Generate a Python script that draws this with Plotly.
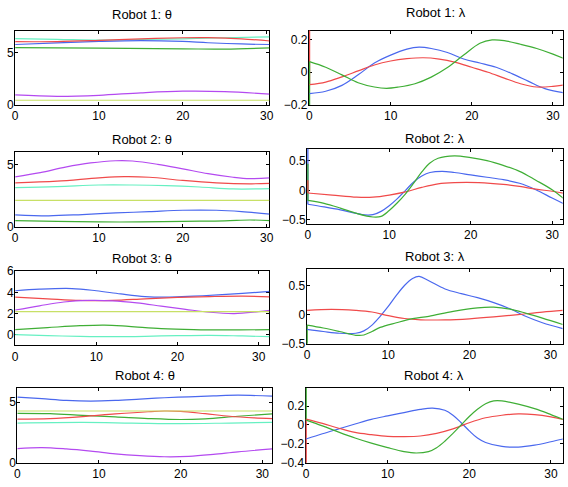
import plotly.graph_objects as go

W, H = 568, 487

# ---------------- colours ----------------
C_BLUE = "#4a68ee"
C_RED = "#f04a4a"
C_GREEN = "#3fae35"
C_PURPLE = "#b44af0"
C_YELLOW = "#c8e066"
C_CYAN = "#66f0c2"

# ---------------- Robot 1: theta ----------------
r1_th_cyan_t = [0, 5, 10, 15, 20, 25, 30.5]
r1_th_cyan = [6.36, 6.30, 6.22, 6.28, 6.35, 6.45, 6.54]
r1_th_red_t = [0, 5, 10, 15, 20, 23, 27, 30.5]
r1_th_red = [6.07, 6.08, 6.20, 6.35, 6.45, 6.46, 6.35, 6.13]
r1_th_blue_t = [0, 5, 10, 15, 20, 23, 27, 30.5]
r1_th_blue = [5.80, 5.95, 6.10, 6.18, 6.10, 5.97, 5.85, 5.80]
r1_th_green_t = [0, 10, 20, 25, 30.5]
r1_th_green = [5.50, 5.45, 5.38, 5.35, 5.48]
r1_th_purple_t = [0, 5, 10, 15, 20, 25, 30.5]
r1_th_purple = [0.94, 0.80, 0.90, 1.14, 1.30, 1.26, 1.00]
r1_th_yellow_t = [0, 30.5]
r1_th_yellow = [0.42, 0.42]

# ---------------- Robot 1: lambda ----------------
r1_la_blue_t = [0, 2, 4, 6, 8, 10, 12, 13.5, 15, 17, 19, 21, 23, 25, 27, 29, 31.5]
r1_la_blue = [-0.13, -0.116, -0.08, -0.016, 0.056, 0.104, 0.14, 0.152, 0.144, 0.12, 0.08, 0.056, 0.03, -0.01, -0.056, -0.10, -0.126]
r1_la_red_t = [0, 2, 4, 6, 8, 10, 12, 14, 16, 18, 20, 22, 24, 26, 28, 30, 31.5]
r1_la_red = [-0.076, -0.06, -0.028, 0.008, 0.044, 0.068, 0.082, 0.088, 0.08, 0.06, 0.03, 0.0, -0.036, -0.07, -0.09, -0.086, -0.076]
r1_la_green_t = [0, 2, 4, 6, 8, 9.5, 11, 13, 15, 17, 19, 21, 22.5, 24, 26, 28, 30, 31.5]
r1_la_green = [0.064, 0.03, -0.016, -0.064, -0.09, -0.098, -0.09, -0.07, -0.03, 0.028, 0.104, 0.176, 0.196, 0.192, 0.17, 0.144, 0.11, 0.08]
r1_la_init = {"red": 0.5, "green": -0.4}

# ---------------- Robot 2: theta ----------------
r2_th_purple_t = [0, 3, 6, 9, 12, 14, 17, 20, 23, 26, 28, 30.5]
r2_th_purple = [4.03, 4.37, 4.82, 5.16, 5.34, 5.32, 5.05, 4.68, 4.29, 4.00, 3.89, 3.95]
r2_th_red_t = [0, 5, 10, 13, 16, 20, 24, 28, 30.5]
r2_th_red = [3.55, 3.68, 3.95, 4.05, 4.00, 3.74, 3.55, 3.47, 3.50]
r2_th_cyan_t = [0, 5, 10, 14, 18, 22, 26, 30.5]
r2_th_cyan = [3.16, 3.24, 3.37, 3.37, 3.32, 3.21, 3.05, 3.08]
r2_th_yellow_t = [0, 30.5]
r2_th_yellow = [2.13, 2.13]
r2_th_blue_t = [0, 4, 8, 12, 16, 20, 24, 27, 30.5]
r2_th_blue = [0.95, 0.87, 0.97, 1.10, 1.21, 1.32, 1.32, 1.21, 1.00]
r2_th_green_t = [0, 5, 10, 15, 20, 25, 28, 30.5]
r2_th_green = [0.47, 0.42, 0.37, 0.37, 0.42, 0.45, 0.53, 0.47]

# ---------------- Robot 2: lambda ----------------
r2_la_green_t = [0, 2, 4, 6, 8, 9, 10, 11, 12, 13, 14, 15, 16, 18, 20, 22, 24, 26, 28, 30, 31.5]
r2_la_green = [-0.17, -0.22, -0.30, -0.39, -0.45, -0.44, -0.34, -0.21, -0.06, 0.12, 0.31, 0.46, 0.54, 0.58, 0.55, 0.50, 0.42, 0.32, 0.17, 0.01, -0.15]
r2_la_blue_t = [0, 2, 4, 6, 7, 8, 9, 10, 11, 12, 13, 14, 15, 16.5, 18, 20, 22, 24, 26, 28, 30, 31.5]
r2_la_blue = [-0.235, -0.28, -0.33, -0.39, -0.415, -0.41, -0.355, -0.26, -0.14, 0.0, 0.14, 0.24, 0.30, 0.32, 0.30, 0.26, 0.22, 0.18, 0.12, 0.01, -0.13, -0.23]
r2_la_red_t = [0, 3, 6, 8, 10, 12, 14, 16, 18, 21, 24, 26, 28, 30, 31.5]
r2_la_red = [-0.045, -0.08, -0.115, -0.115, -0.08, -0.027, 0.05, 0.11, 0.13, 0.13, 0.10, 0.065, 0.02, -0.016, -0.05]
r2_la_init = {"blue": 1.0, "green": 0.45, "red": 0.17}

# ---------------- Robot 3: theta ----------------
r3_th_blue_t = [0, 3, 7, 10, 13, 16, 19, 22, 25, 28, 31.5]
r3_th_blue = [4.15, 4.30, 4.36, 4.15, 3.85, 3.60, 3.55, 3.64, 3.76, 3.90, 4.09]
r3_th_red_t = [0, 4, 8, 12, 16, 20, 24, 28, 31.5]
r3_th_red = [3.55, 3.39, 3.24, 3.24, 3.39, 3.52, 3.60, 3.64, 3.58]
r3_th_purple_t = [0, 3, 6, 9, 12, 15, 18, 21, 24, 27, 30, 31.5]
r3_th_purple = [2.33, 2.73, 3.09, 3.24, 3.20, 3.00, 2.70, 2.40, 2.12, 2.00, 2.18, 2.30]
r3_th_yellow_t = [0, 31.5]
r3_th_yellow = [2.18, 2.18]
r3_th_green_t = [0, 4, 8, 11, 14, 18, 22, 26, 31.5]
r3_th_green = [0.48, 0.67, 0.85, 0.91, 0.79, 0.58, 0.48, 0.45, 0.48]
r3_th_cyan_t = [0, 4, 8, 12, 16, 20, 24, 28, 31.5]
r3_th_cyan = [0.0, -0.09, -0.15, -0.18, -0.15, -0.09, -0.06, -0.12, -0.18]

# ---------------- Robot 3: lambda ----------------
r3_la_blue_t = [0, 2, 4, 6, 7, 8, 9, 10, 11, 12, 13, 13.8, 15, 17, 19, 21, 23, 25, 27, 29, 31.5]
r3_la_blue = [-0.255, -0.29, -0.32, -0.32, -0.28, -0.18, -0.03, 0.14, 0.33, 0.50, 0.62, 0.655, 0.58, 0.44, 0.36, 0.29, 0.205, 0.10, -0.033, -0.14, -0.24]
r3_la_red_t = [0, 3, 6, 8, 10, 12, 14, 17, 20, 23, 26, 29, 31.5]
r3_la_red = [0.072, 0.09, 0.072, 0.044, -0.017, -0.067, -0.09, -0.09, -0.072, -0.04, 0.0, 0.044, 0.072]
r3_la_green_t = [0, 2, 4, 6, 7, 8, 9, 11, 13, 15, 18, 21, 23, 25, 27, 29, 31.5]
r3_la_green = [-0.18, -0.23, -0.29, -0.355, -0.35, -0.29, -0.22, -0.14, -0.07, -0.03, 0.056, 0.117, 0.128, 0.094, 0.022, -0.06, -0.17]
r3_la_init = {"green": -0.8}

# ---------------- Robot 4: theta ----------------
r4_th_blue_t = [0, 3, 6, 9, 12, 15, 18, 21, 24, 27, 31.2]
r4_th_blue = [5.40, 5.27, 5.13, 5.08, 5.13, 5.24, 5.35, 5.43, 5.50, 5.56, 5.48]
r4_th_yellow_t = [0, 31.2]
r4_th_yellow = [4.26, 4.26]
r4_th_red_t = [0, 4, 8, 12, 16, 18, 20, 23, 26, 29, 31.2]
r4_th_red = [3.59, 3.64, 3.80, 4.02, 4.20, 4.26, 4.23, 4.04, 3.83, 3.70, 3.64]
r4_th_green_t = [0, 4, 8, 12, 16, 20, 23, 27, 31.2]
r4_th_green = [4.07, 4.04, 3.90, 3.78, 3.64, 3.56, 3.62, 3.83, 4.02]
r4_th_cyan_t = [0, 8, 14, 20, 26, 31.2]
r4_th_cyan = [3.27, 3.32, 3.27, 3.22, 3.27, 3.32]
r4_th_purple_t = [0, 3, 6, 9, 12, 15, 18, 21, 24, 27, 31.2]
r4_th_purple = [1.17, 1.25, 1.14, 0.96, 0.74, 0.59, 0.50, 0.53, 0.69, 0.90, 1.14]

# ---------------- Robot 4: lambda ----------------
r4_la_blue_t = [0, 2, 4, 6, 8, 10, 12, 14, 15.5, 17, 18, 19, 20, 21, 22, 24, 26, 28, 30, 31.5]
r4_la_blue = [-0.15, -0.094, -0.042, 0.01, 0.06, 0.097, 0.132, 0.167, 0.18, 0.157, 0.104, 0.024, -0.063, -0.14, -0.188, -0.23, -0.237, -0.216, -0.18, -0.15]
r4_la_red_t = [0, 2, 4, 6, 8, 10, 12, 14, 16, 18, 19, 20, 22, 24, 26, 28, 30, 31.5]
r4_la_red = [0.063, 0.017, -0.035, -0.08, -0.104, -0.122, -0.125, -0.118, -0.09, -0.042, -0.01, 0.024, 0.077, 0.104, 0.118, 0.111, 0.087, 0.06]
r4_la_green_t = [0, 2, 4, 6, 8, 10, 12, 13.5, 15, 16, 17, 18, 19, 20, 21, 22, 23, 24, 26, 28, 30, 31.5]
r4_la_green = [0.052, -0.01, -0.077, -0.14, -0.195, -0.243, -0.285, -0.30, -0.285, -0.243, -0.174, -0.09, 0.0, 0.09, 0.167, 0.226, 0.257, 0.257, 0.223, 0.174, 0.111, 0.06]
r4_la_init = {"green": 0.6, "red": -0.6}

titles = ["Robot 1: θ", "Robot 1: λ", "Robot 2: θ", "Robot 2: λ",
          "Robot 3: θ", "Robot 3: λ", "Robot 4: θ", "Robot 4: λ"]

COL = {"blue": C_BLUE, "red": C_RED, "green": C_GREEN,
       "purple": C_PURPLE, "yellow": C_YELLOW, "cyan": C_CYAN}

panels = [
    [("cyan", r1_th_cyan_t, r1_th_cyan), ("green", r1_th_green_t, r1_th_green),
     ("blue", r1_th_blue_t, r1_th_blue), ("red", r1_th_red_t, r1_th_red),
     ("purple", r1_th_purple_t, r1_th_purple), ("yellow", r1_th_yellow_t, r1_th_yellow)],
    [("blue", r1_la_blue_t, r1_la_blue), ("red", r1_la_red_t, r1_la_red),
     ("green", r1_la_green_t, r1_la_green)],
    [("purple", r2_th_purple_t, r2_th_purple), ("red", r2_th_red_t, r2_th_red),
     ("cyan", r2_th_cyan_t, r2_th_cyan), ("yellow", r2_th_yellow_t, r2_th_yellow),
     ("blue", r2_th_blue_t, r2_th_blue), ("green", r2_th_green_t, r2_th_green)],
    [("blue", r2_la_blue_t, r2_la_blue), ("red", r2_la_red_t, r2_la_red),
     ("green", r2_la_green_t, r2_la_green)],
    [("blue", r3_th_blue_t, r3_th_blue), ("red", r3_th_red_t, r3_th_red),
     ("purple", r3_th_purple_t, r3_th_purple), ("yellow", r3_th_yellow_t, r3_th_yellow),
     ("green", r3_th_green_t, r3_th_green), ("cyan", r3_th_cyan_t, r3_th_cyan)],
    [("blue", r3_la_blue_t, r3_la_blue), ("red", r3_la_red_t, r3_la_red),
     ("green", r3_la_green_t, r3_la_green)],
    [("blue", r4_th_blue_t, r4_th_blue), ("cyan", r4_th_cyan_t, r4_th_cyan),
     ("purple", r4_th_purple_t, r4_th_purple), ("green", r4_th_green_t, r4_th_green),
     ("red", r4_th_red_t, r4_th_red), ("yellow", r4_th_yellow_t, r4_th_yellow)],
    [("blue", r4_la_blue_t, r4_la_blue), ("red", r4_la_red_t, r4_la_red),
     ("green", r4_la_green_t, r4_la_green)],
]
inits = [None, r1_la_init, None, r2_la_init, None, r3_la_init, None, r4_la_init]

# layout geometry in pixels: (x0, x1, ytop, ybottom)
boxes = [
    (12.3, 269.5, 24.3, 100.5), (309.7, 566.7, 24.3, 101.0),
    (12.3, 269.5, 149.3, 226.0), (308.0, 566.7, 146.0, 223.3),
    (12.3, 269.5, 272.0, 348.3), (307.3, 566.7, 269.3, 346.7),
    (14.5, 272.5, 392.3, 469.3), (306.3, 566.7, 392.3, 469.3),
]
xranges = [[0, 30.3], [-0.07, 31.2], [0, 30.3], [-0.07, 31.3],
           [0, 31.3], [-0.07, 31.5], [0, 31.2], [-0.07, 31.45]]
yranges = [[0, 7.14], [-0.2, 0.253], [0, 6.05], [-0.566, 0.70],
           [-1, 6.0], [-0.5, 0.79], [0, 6.15], [-0.405, 0.395]]
dticks = [5, 0.2, 5, 0.5, 2, 0.5, 5, 0.2]
title_y = [8, 6, 136.5, 135, 259, 257, 379, 379]

FONT = "Liberation Sans, Arial, Helvetica, sans-serif"

fig = go.Figure()
layout = dict(
    width=W, height=H, margin=dict(l=0, r=0, t=0, b=0),
    paper_bgcolor="white", plot_bgcolor="white", showlegend=False,
    font=dict(family=FONT, size=12, color="black"),
    annotations=[],
)

for i in range(8):
    k = "" if i == 0 else str(i + 1)
    x0, x1, yt, yb = boxes[i]
    # spike at the start of lambda series
    if inits[i]:
        for name, val in inits[i].items():
            cname, tt, vv = next(p for p in panels[i] if p[0] == name)
            fig.add_trace(go.Scatter(x=[tt[0], tt[0]], y=[val, vv[0]],
                                     mode="lines", line=dict(color=COL[name], width=1.5),
                                     xaxis="x" + k, yaxis="y" + k, hoverinfo="skip"))
    for cname, tt, vv in panels[i]:
        fig.add_trace(go.Scatter(x=tt, y=vv, mode="lines",
                                 line=dict(color=COL[cname], width=1.2, shape="spline", smoothing=1.0),
                                 xaxis="x" + k, yaxis="y" + k))
    axcommon = dict(showgrid=False, zeroline=False, showline=True, linecolor="black",
                    linewidth=1, mirror="ticks", ticks="inside", ticklen=3, layer="below traces",
                    tickwidth=1, tickcolor="black", tickfont=dict(size=12, family=FONT, color="black"))
    layout["xaxis" + k] = dict(axcommon, domain=[x0 / W, x1 / W], range=xranges[i],
                               tick0=0, dtick=10, anchor="y" + k, ticklabelstandoff=0)
    layout["yaxis" + k] = dict(axcommon, domain=[1 - yb / H, 1 - yt / H], range=yranges[i],
                               tick0=0, dtick=dticks[i], anchor="x" + k, ticklabelstandoff=-2)
    layout["annotations"].append(dict(
        text=titles[i], x=(x0 + x1) / 2 / W, y=1 - title_y[i] / H, xref="paper", yref="paper",
        xanchor="center", yanchor="middle", showarrow=False,
        font=dict(size=13, family=FONT, color="black")))

fig.update_layout(**layout)
fig.write_html("out.html", config={"displayModeBar": False},
               post_script="document.body.style.margin='0';document.body.style.padding='0';")
